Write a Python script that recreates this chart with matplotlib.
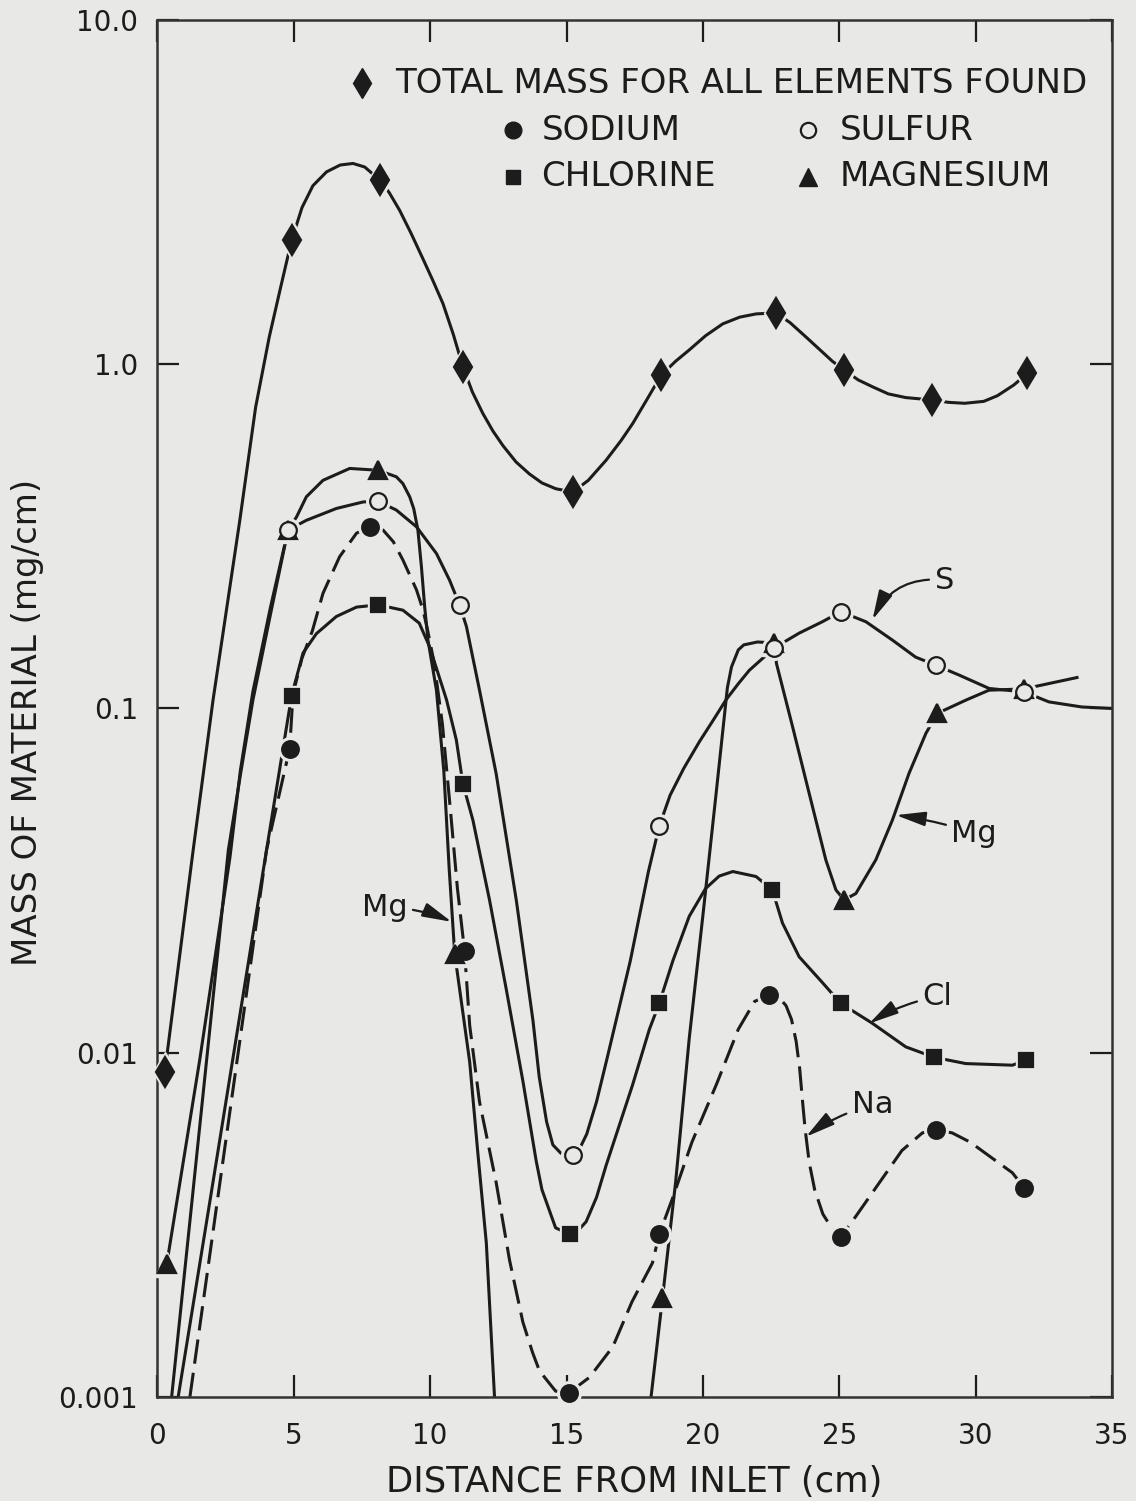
import numpy as np
import matplotlib
matplotlib.use('Agg')
import matplotlib.pyplot as plt
from matplotlib.ticker import FixedLocator, FixedFormatter, NullLocator

INK = '#1c1c1c'
PAPER = '#e8e8e6'
nan = np.nan

# plotted points (distance cm, mass mg/cm)
total_x = [0.27, 4.92, 8.15, 11.2, 15.23, 18.47, 22.68, 25.18, 28.42, 31.9]
total_y = [0.0088, 2.29, 3.43, 0.983, 0.425, 0.929, 1.41, 0.962, 0.787, 0.94]

na_x = [4.85, 7.78, 11.26, 15.1, 18.4, 22.43, 25.06, 28.54, 31.78]
na_y = [0.0765, 0.337, 0.0198, 0.00103, 0.00297, 0.0147, 0.00292, 0.00597, 0.00405]

cl_x = [4.92, 8.09, 11.2, 15.11, 18.4, 22.55, 25.06, 28.48, 31.84]
cl_y = [0.109, 0.2, 0.0605, 0.00297, 0.0139, 0.0297, 0.0139, 0.0097, 0.0095]

s_x = [4.79, 8.09, 11.08, 15.22, 18.4, 22.62, 25.06, 28.54, 31.78]
s_y = [0.33, 0.40, 0.2, 0.00503, 0.0455, 0.150, 0.191, 0.1336, 0.1117]

mg_x = [0.34, 4.79, 8.09, 10.9, 18.52, 22.62, 25.18, 28.6, 31.78]
mg_y = [0.00243, 0.33, 0.492, 0.0194, 0.00194, 0.155, 0.0278, 0.0968, 0.114]

# hand-drawn curves
total_cx = [0.27, 1.31, 2.04, 3.02, 3.6, 4.1, 4.5, 4.92, 5.3, 5.7, 6.2, 6.7, 7.17, 7.6, 8.15,
            8.5, 8.88, 9.3, 9.74, 10.1, 10.47, 10.85, 11.2, 11.55, 11.93, 12.3, 12.67, 13.15,
            13.64, 14.1, 14.6, 15.23, 15.8, 16.45, 17.0, 17.43, 17.95, 18.47, 19.0, 19.5, 20.1,
            20.73, 21.35, 21.95, 22.68, 23.2, 23.78, 24.3, 24.75, 25.18, 25.7, 26.22, 26.8,
            27.44, 28.42, 29.0, 29.6, 30.3, 30.8, 31.4, 31.9]
total_cy = [0.0088, 0.0388, 0.106, 0.352, 0.75, 1.2, 1.65, 2.29, 2.85, 3.3, 3.62, 3.79, 3.83,
            3.74, 3.43, 3.15, 2.8, 2.4, 2.02, 1.75, 1.50, 1.22, 0.983, 0.83, 0.72, 0.64, 0.58,
            0.52, 0.48, 0.452, 0.435, 0.425, 0.46, 0.526, 0.6, 0.673, 0.79, 0.929, 1.02, 1.1,
            1.21, 1.31, 1.37, 1.40, 1.41, 1.32, 1.2, 1.1, 1.02, 0.962, 0.9, 0.86, 0.82, 0.80,
            0.787, 0.775, 0.77, 0.78, 0.81, 0.87, 0.94]

na_cx = [1.19, 2.2, 3.23, 4.0, 4.85, 4.97, 5.3, 5.68, 6.07, 6.68, 7.3, 7.78, 8.27, 8.65, 9.0,
         9.5, 9.74, 9.9, 10.15, 10.45, 10.75, 11.0, 11.26, 11.45, 11.81, 12.42, 12.91, 13.4,
         13.75, 14.01, 14.6, 15.1, 15.84, 16.7, 17.4, 18.15, 18.4, 18.9, 19.6, 20.5, 21.3, 21.9,
         22.43, 22.75, 23.05, 23.25, 23.42, 23.55, 23.65, 23.75, 23.9, 24.1, 24.4, 24.74, 25.06,
         25.6, 26.47, 27.3, 28.05, 28.54, 29.14, 29.8, 30.37, 31.35, 31.78]
na_cy = [0.001, 0.00373, 0.0142, 0.0388, 0.0765, 0.11, 0.14, 0.168, 0.216, 0.276, 0.323, 0.337,
         0.33, 0.305, 0.27, 0.221, 0.193, 0.17, 0.135, 0.09, 0.05, 0.03, 0.0198, 0.012, 0.0072,
         0.0042, 0.0025, 0.00165, 0.00135, 0.00119, 0.00104, 0.00103, 0.00114, 0.0014, 0.00189,
         0.00245, 0.00297, 0.0038, 0.0055, 0.0081, 0.0117, 0.0141, 0.0147, 0.0146, 0.0137,
         0.0125, 0.0108, 0.0090, 0.0073, 0.0060, 0.0048, 0.0040, 0.0034, 0.00308, 0.00292,
         0.00334, 0.00419, 0.0052, 0.00585, 0.00597, 0.00585, 0.0055, 0.0051, 0.00448, 0.00405]

cl_cx = [0.76, 1.93, 3.11, 4.0, 4.92, 5.34, 5.83, 6.56, 7.3, 8.09, 9.0, 9.6, 9.98, 10.6, 10.96,
         11.2, 11.57, 12.18, 12.79, 13.4, 13.89, 14.1, 14.6, 15.11, 15.4, 15.72, 16.1, 16.45,
         17.42, 18.04, 18.4, 18.9, 19.5, 20.1, 20.6, 21.1, 21.95, 22.55, 22.92, 23.53, 24.38,
         25.06, 26.2, 27.44, 28.48, 29.64, 31.35, 31.84]
cl_cy = [0.001, 0.00373, 0.0142, 0.0388, 0.109, 0.145, 0.165, 0.185, 0.197, 0.2, 0.193, 0.177,
         0.151, 0.106, 0.081, 0.0605, 0.0473, 0.0277, 0.0153, 0.00828, 0.00484, 0.0040, 0.0031,
         0.00297, 0.00303, 0.00323, 0.0038, 0.0047, 0.00805, 0.0117, 0.0139, 0.0185, 0.0249,
         0.030, 0.0326, 0.0336, 0.0325, 0.0297, 0.0238, 0.019, 0.016, 0.0139, 0.0122, 0.0104,
         0.0097, 0.0093, 0.0092, 0.0095]

s_cx = [0.52, 1.27, 2.03, 2.6, 3.04, 3.5, 4.14, 4.79, 5.46, 6.56, 7.54, 8.09, 8.76, 9.5, 10.23,
        10.71, 11.08, 11.33, 11.81, 12.42, 13.16, 13.77, 14.0, 14.27, 14.5, 14.8, 15.22, 15.5,
        15.74, 16.1, 16.47, 17.34, 18.0, 18.4, 18.8, 19.3, 19.87, 20.4, 20.85, 21.3, 21.7, 22.2,
        22.62, 23.53, 24.38, 25.06, 25.98, 26.95, 27.8, 28.54, 29.4, 30.5, 31.78, 32.69, 33.9,
        35.0]
s_cy = [0.001, 0.00373, 0.0142, 0.0388, 0.064, 0.1057, 0.187, 0.33, 0.352, 0.381, 0.398, 0.40,
        0.377, 0.337, 0.282, 0.236, 0.2, 0.173, 0.113, 0.0647, 0.0277, 0.0124, 0.0085, 0.0063,
        0.0054, 0.0051, 0.00503, 0.0053, 0.0058, 0.0072, 0.0095, 0.0185, 0.0335, 0.0455, 0.056,
        0.067, 0.08, 0.093, 0.106, 0.118, 0.129, 0.14, 0.150, 0.1655, 0.1786, 0.191, 0.1786,
        0.158, 0.141, 0.1336, 0.125, 0.1143, 0.1117, 0.1045, 0.101, 0.1]

mg_cx = [0.34, 1.55, 2.66, 3.04, 3.5, 4.14, 4.79, 5.1, 5.46, 6.07, 7.05, 8.09, 8.76, 9.0, 9.25,
         9.4, 9.55, 9.68, 9.8, 9.92, 10.23, 10.5, 10.7, 10.9, 11.45, 11.75, 12.06, 12.36, nan,
         18.1, 18.52, 19.0, 19.5, 20.0, 20.5, 20.9, 21.05, 21.3, 21.5, 22.0, 22.62, 22.7, 23.29,
         23.9, 24.51, 24.88, 25.18, 25.61, 26.34, 26.95, 27.56, 28.18, 28.6, 29.64, 30.49,
         31.78, 32.44, 33.72]
mg_cy = [0.00243, 0.00953, 0.037, 0.066, 0.112, 0.196, 0.33, 0.36, 0.412, 0.46, 0.498, 0.492,
         0.471, 0.45, 0.412, 0.38, 0.33, 0.258, 0.197, 0.158, 0.113, 0.066, 0.034, 0.0194,
         0.0094, 0.0051, 0.0028, 0.001, nan,
         0.001, 0.00194, 0.0042, 0.011, 0.025, 0.058, 0.115, 0.132, 0.148, 0.153, 0.156, 0.155,
         0.135, 0.0885, 0.0566, 0.0363, 0.0297, 0.0278, 0.029, 0.0363, 0.0474, 0.0648, 0.0847,
         0.0968, 0.1057, 0.113, 0.114, 0.117, 0.123]

x_ticks = [0, 5, 10, 15, 20, 25, 30, 35]
y_ticks = [0.001, 0.01, 0.1, 1.0, 10.0]
y_tick_labels = ['0.001', '0.01', '0.1', '1.0', '10.0']

plt.rcParams.update({'font.family': 'DejaVu Sans', 'text.color': INK,
                     'axes.labelcolor': INK, 'xtick.color': INK, 'ytick.color': INK})

fig = plt.figure(figsize=(11.36, 15.01), dpi=100, facecolor=PAPER)
ax = fig.add_axes([0.1386, 0.0693, 0.8402, 0.9174], facecolor=PAPER)
ax.set_yscale('log')
ax.set_xlim(0, 35)
ax.set_ylim(0.001, 10)

lw = 2.2
line_kw = dict(color=INK, lw=lw, zorder=2, solid_joinstyle='round', dash_joinstyle='round')
ax.plot(total_cx, total_cy, **line_kw)
ax.plot(s_cx, s_cy, **line_kw)
ax.plot(cl_cx, cl_cy, **line_kw)
ax.plot(mg_cx, mg_cy, **line_kw)
ax.plot(na_cx, na_cy, linestyle=(0, (8, 3)), **line_kw)

# markers with a paper-coloured halo, like the gaps of the inked curves
series = [
    (total_x, total_y, 'd', 15, INK),
    (na_x, na_y, 'o', 12, INK),
    (cl_x, cl_y, 's', 9.5, INK),
    (mg_x, mg_y, '^', 13, INK),
    (s_x, s_y, 'o', 12, PAPER),
]
for xs, ys, m, ms, face in series:
    ax.plot(xs, ys, linestyle='none', marker=m, ms=ms + 5, mfc=PAPER, mec=PAPER,
            zorder=3, clip_on=False)
for xs, ys, m, ms, face in series:
    ax.plot(xs, ys, linestyle='none', marker=m, ms=ms, mfc=face, mec=INK, mew=1.6,
            zorder=4, clip_on=False)

# legend drawn as text
lt = ax.transAxes
leg_fs = 24.5
ax.plot([0.2147], [0.954], 'd', ms=15, color=INK, transform=lt, clip_on=False)
ax.text(0.2485, 0.954, 'TOTAL MASS FOR ALL ELEMENTS FOUND', transform=lt,
        fontsize=leg_fs, va='center', ha='left')
ax.plot([0.3725], [0.920], 'o', ms=12, color=INK, transform=lt, clip_on=False)
ax.text(0.4023, 0.920, 'SODIUM', transform=lt, fontsize=leg_fs, va='center', ha='left')
ax.plot([0.6815], [0.920], 'o', ms=11, mfc=PAPER, mec=INK, mew=1.6, transform=lt,
        clip_on=False)
ax.text(0.715, 0.920, 'SULFUR', transform=lt, fontsize=leg_fs, va='center', ha='left')
ax.plot([0.3725], [0.886], 's', ms=9.5, color=INK, transform=lt, clip_on=False)
ax.text(0.4023, 0.886, 'CHLORINE', transform=lt, fontsize=leg_fs, va='center', ha='left')
ax.plot([0.6815], [0.886], '^', ms=13, color=INK, transform=lt, clip_on=False)
ax.text(0.715, 0.886, 'MAGNESIUM', transform=lt, fontsize=leg_fs, va='center', ha='left')

# curve labels with arrows
arrow = dict(arrowstyle='-|>,head_length=0.9,head_width=0.22', color=INK, lw=1.6,
             mutation_scale=20, shrinkA=2, shrinkB=0)
lab_fs = 22
ax.annotate('Mg', xy=(10.79, 0.024), xytext=(8.33, 0.0265), fontsize=lab_fs,
            ha='center', va='center', arrowprops=dict(arrow, connectionstyle='arc3,rad=-0.1'))
ax.annotate('S', xy=(26.22, 0.181), xytext=(28.85, 0.236), fontsize=lab_fs,
            ha='center', va='center', arrowprops=dict(arrow, connectionstyle='arc3,rad=0.35'))
ax.annotate('Mg', xy=(27.08, 0.049), xytext=(29.95, 0.0434), fontsize=lab_fs,
            ha='center', va='center', arrowprops=dict(arrow, connectionstyle='arc3,rad=0.05'))
ax.annotate('Cl', xy=(26.1, 0.01216), xytext=(28.6, 0.01455), fontsize=lab_fs,
            ha='center', va='center', arrowprops=dict(arrow, connectionstyle='arc3,rad=0.1'))
ax.annotate('Na', xy=(23.78, 0.0057), xytext=(26.22, 0.00705), fontsize=lab_fs,
            ha='center', va='center', arrowprops=dict(arrow, connectionstyle='arc3,rad=0.1'))

# axes, ticks and labels
ax.xaxis.set_major_locator(FixedLocator(x_ticks))
ax.yaxis.set_major_locator(FixedLocator(y_ticks))
ax.yaxis.set_major_formatter(FixedFormatter(y_tick_labels))
ax.yaxis.set_minor_locator(NullLocator())
ax.tick_params(which='major', direction='in', length=16, width=1.6, top=True, right=True,
               labelsize=20)
ax.tick_params(axis='x', pad=18)
ax.tick_params(axis='y', pad=14)
for sp in ax.spines.values():
    sp.set_linewidth(1.8)
    sp.set_color('#333333')

ax.set_xlabel('DISTANCE FROM INLET (cm)', fontsize=25.5)
ax.set_ylabel('MASS OF MATERIAL (mg/cm)', fontsize=24.5)
ax.xaxis.set_label_coords(0.5, -0.062)
ax.xaxis.label.set_va('center')
ax.yaxis.set_label_coords(-0.136, 0.49)
ax.yaxis.label.set_va('center')

fig.savefig('out.png', dpi=100, facecolor=PAPER)
